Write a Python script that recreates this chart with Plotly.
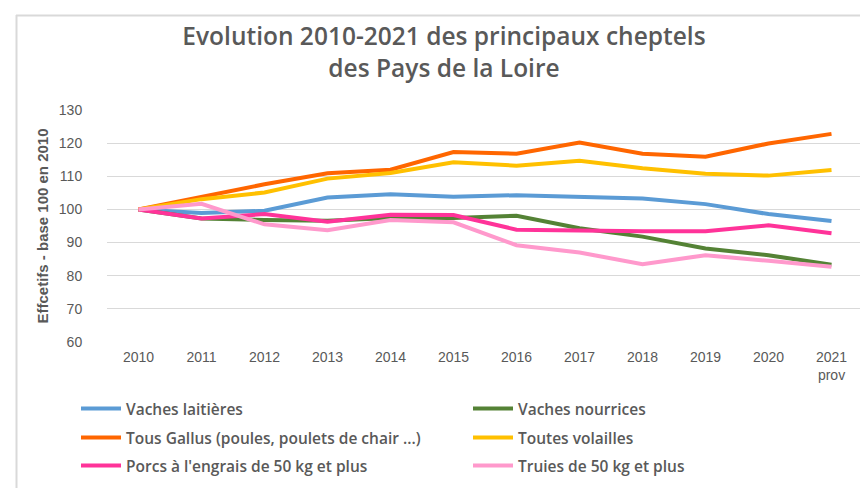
import plotly.graph_objects as go

years = ["2010", "2011", "2012", "2013", "2014", "2015", "2016", "2017", "2018", "2019", "2020", "2021"]
tick_labels = ["2010", "2011", "2012", "2013", "2014", "2015", "2016", "2017", "2018", "2019", "2020", "2021<br>prov"]

vaches_laitieres = [100, 98.9, 99.6, 103.6, 104.6, 103.8, 104.3, 103.8, 103.3, 101.6, 98.6, 96.5]
vaches_nourrices = [100, 97.3, 96.8, 96.6, 97.4, 97.4, 98.1, 94.3, 91.8, 88.2, 86.2, 83.3]
tous_gallus = [100, 103.7, 107.6, 110.9, 112.0, 117.3, 116.8, 120.2, 116.8, 115.9, 119.9, 122.8]
toutes_volailles = [100, 103.1, 105.1, 109.3, 111.0, 114.2, 113.2, 114.7, 112.4, 110.8, 110.2, 111.9]
porcs_engrais = [100, 97.3, 98.6, 96.3, 98.4, 98.3, 93.9, 93.5, 93.4, 93.4, 95.2, 92.8]
truies = [100, 101.7, 95.5, 93.7, 96.8, 96.1, 89.2, 87.0, 83.5, 86.2, 84.5, 82.7]

series = [
    ("Vaches laitières", vaches_laitieres, "#5B9BD5", "legend"),
    ("Vaches nourrices", vaches_nourrices, "#548235", "legend"),
    ("Tous Gallus (poules, poulets de chair ...)", tous_gallus, "#FF6600", "legend2"),
    ("Toutes volailles", toutes_volailles, "#FFC000", "legend2"),
    ("Porcs à l'engrais de 50 kg et plus", porcs_engrais, "#FF3399", "legend3"),
    ("Truies de 50 kg et plus", truies, "#FF99CC", "legend3"),
]

W, H = 868, 488
L, R, T, B = 99, 13, 102, 154
pw, ph = W - L - R, H - T - B

def px(x):
    return (x - L) / pw

def py(y):
    return (H - B - y) / ph

fig = go.Figure()
for name, vals, color, leg in series:
    fig.add_trace(go.Scatter(
        x=list(range(len(years))), y=vals, name=name, mode="lines",
        line=dict(color=color, width=4), legend=leg,
    ))

font_family = "Liberation Sans, Arial, sans-serif"
grey = "#595959"

def legend_at(yc):
    return dict(
        orientation="h", x=px(68), xanchor="left", y=py(yc), yanchor="middle",
        entrywidth=337, entrywidthmode="pixels",
        font=dict(size=15.5, color=grey, family="Open Sans, sans-serif", weight=600),
        itemwidth=40, bgcolor="rgba(0,0,0,0)",
    )

fig.update_layout(
    width=W, height=H,
    margin=dict(l=L, r=R, t=T, b=B, autoexpand=False),
    paper_bgcolor="white", plot_bgcolor="white",
    font=dict(family=font_family, color=grey, size=14),
    title=dict(
        text="Evolution 2010-2021 des principaux cheptels<br>des Pays de la Loire",
        x=436 / W, xanchor="center", y=1 - 37 / H, yanchor="top",
        font=dict(size=24.5, color=grey, family="Open Sans, sans-serif", weight=600),
    ),
    xaxis=dict(
        tickmode="array", tickvals=list(range(len(years))), ticktext=tick_labels,
        range=[-0.5, 11.5], showgrid=False, zeroline=False, showline=False,
        ticks="outside", ticklen=2, tickcolor="rgba(0,0,0,0)",
        tickfont=dict(size=14, color=grey),
    ),
    yaxis=dict(
        range=[60, 130], tickmode="array", tickvals=[60, 70, 80, 90, 100, 110, 120, 130],
        showgrid=True, gridcolor="#D9D9D9", gridwidth=1, zeroline=False, showline=False,
        ticks="outside", ticklen=21, tickcolor="rgba(0,0,0,0)",
        tickfont=dict(size=14, color=grey),
        title=dict(text="<b>Effcetifs - base 100 en 2010</b>", font=dict(size=15, color=grey), standoff=6),
    ),
    showlegend=True,
    legend=legend_at(401),
    legend2=legend_at(430),
    legend3=legend_at(458),
    shapes=[
        dict(type="line", xref="paper", yref="paper", x0=px(8.5), x1=px(8.5), y0=py(7), y1=py(488),
             line=dict(color="#D9D9D9", width=2)),
        dict(type="line", xref="paper", yref="paper", x0=px(8), x1=px(867), y0=py(7.5), y1=py(7.5),
             line=dict(color="#D9D9D9", width=2)),
    ],
)

fig.write_html("out.html")
